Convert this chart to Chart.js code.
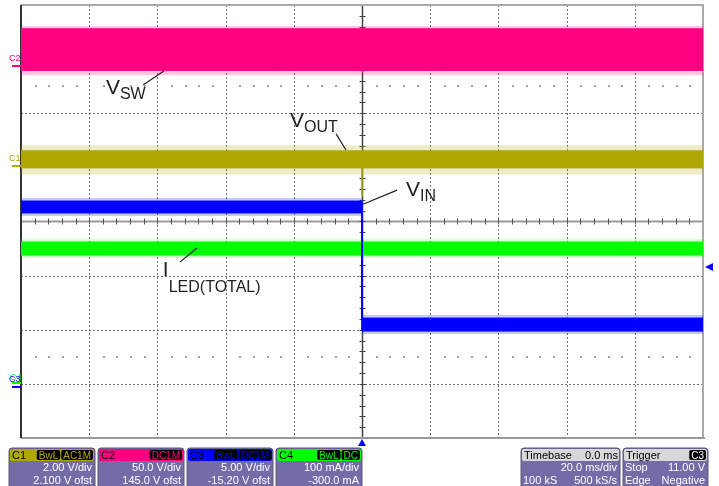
<!DOCTYPE html>
<html>
<head>
<meta charset="utf-8">
<script src="https://cdn.jsdelivr.net/npm/chart.js@4.4.0/dist/chart.umd.min.js"></script>
<style>
  html, body { margin: 0; padding: 0; background: #fff; overflow: hidden; }
  canvas { display: block; }
</style>
</head>
<body>
<canvas id="scope" width="719" height="486"></canvas>
<script>
// time axis in ms (20 ms/div, trigger at 0)
const timeFlat = [-100, 100];
const timeStep = [-100, 0, 0, 100];
const timeOut = [-100, 0, 0, 0, 100];

// channel setup
const chNames = ['C1', 'C2', 'C3', 'C4'];
const chScale = [2, 50, 5, 100];        // V/div, V/div, V/div, mA/div
const chOffset = [2.1, 145, -15.2, -300];
const chColors = ['rgb(176,168,0)', 'rgb(255,0,128)', 'rgb(0,0,255)', 'rgb(0,255,0)'];

// C2 - switch node (V): solid band and spike envelope
const vswHi = [33.0, 33.0];
const vswLo = [-5.5, -5.5];
const vswPeakHi = [35.7, 35.7];
const vswPeakLo = [-10.0, -10.0];

// C1 - output ripple (V, AC coupled)
const voutHi = [0.51, 0.51, 0.51, 0.51, 0.51];
const voutLo = [-0.12, -0.12, -1.19, -0.12, -0.12];
const voutPeakHi = [0.72, 0.72, 0.72, 0.72, 0.72];
const voutPeakLo = [-0.36, -0.36, -1.19, -0.36, -0.36];

// C3 - input (V), steps down at trigger
const vinHi = [17.09, 17.09, 6.28, 6.28];
const vinLo = [15.99, 15.99, 5.08, 5.08];
const vinPeakHi = [17.37, 17.37, 6.56, 6.56];
const vinPeakLo = [15.71, 15.71, 4.80, 4.80];

// C4 - LED current (mA)
const iledHi = [262, 262];
const iledLo = [238, 238];
const iledPeakHi = [267, 267];
const iledPeakLo = [233, 233];

const triggerLevel = 11.0; // V on C3

function toDiv(v, ch) {
  return (v + chOffset[ch]) / chScale[ch];
}

function alpha(rgb, a) {
  return rgb.replace('rgb(', 'rgba(').replace(')', ',' + a + ')');
}

function band(times, hi, lo, ch, soft) {
  const col = soft ? alpha(chColors[ch], 0.22) : chColors[ch];
  const mk = (arr) => times.map((t, i) => ({ x: t, y: toDiv(arr[i], ch) }));
  return [
    { data: mk(hi), borderColor: col, backgroundColor: col, borderWidth: soft ? 0 : 1,
      pointRadius: 0, fill: '+1', tension: 0, order: soft ? 2 : 1 },
    { data: mk(lo), borderColor: col, backgroundColor: col, borderWidth: soft ? 0 : 1,
      pointRadius: 0, fill: false, tension: 0, order: soft ? 2 : 1 }
  ];
}

const datasets = [].concat(
  band(timeFlat, vswPeakHi, vswPeakLo, 1, true),
  band(timeFlat, vswHi, vswLo, 1, false),
  band(timeOut, voutPeakHi, voutPeakLo, 0, true),
  band(timeOut, voutHi, voutLo, 0, false),
  band(timeStep, vinPeakHi, vinPeakLo, 2, true),
  band(timeStep, vinHi, vinLo, 2, false),
  band(timeFlat, iledPeakHi, iledPeakLo, 3, true),
  band(timeFlat, iledHi, iledLo, 3, false)
);

const FONT = '"Liberation Sans", Arial, sans-serif';

// graticule, drawn under the traces
const gridPlugin = {
  id: 'grid',
  beforeDatasetsDraw(chart) {
    const { ctx, chartArea: a, scales: { x, y } } = chart;
    ctx.save();
    ctx.strokeStyle = '#707070';
    ctx.lineWidth = 1;
    ctx.setLineDash([2, 2]);
    for (let t = -80; t <= 80; t += 20) {
      if (t === 0) continue;
      const px = Math.round(x.getPixelForValue(t)) + 0.5;
      ctx.beginPath(); ctx.moveTo(px, a.top); ctx.lineTo(px, a.bottom); ctx.stroke();
    }
    for (let d = -3; d <= 3; d++) {
      if (d === 0) continue;
      const py = Math.round(y.getPixelForValue(d)) + 0.5;
      ctx.beginPath(); ctx.moveTo(a.left, py); ctx.lineTo(a.right, py); ctx.stroke();
    }
    ctx.setLineDash([]);
    // sparse dot rows at +/-2.5 div
    ctx.fillStyle = '#a0a0a0';
    [2.5, -2.5].forEach(d => {
      const py = Math.round(y.getPixelForValue(d));
      for (let t = -96; t < 100; t += 4) {
        if (t % 20 === 0) continue;
        ctx.fillRect(Math.round(x.getPixelForValue(t)), py - 1, 2, 2);
      }
    });
    // centre horizontal axis with ticks
    const cy = y.getPixelForValue(0);
    ctx.strokeStyle = '#9a9a9a';
    ctx.lineWidth = 2;
    ctx.beginPath(); ctx.moveTo(a.left, cy); ctx.lineTo(a.right, cy); ctx.stroke();
    ctx.strokeStyle = '#555';
    ctx.lineWidth = 1;
    for (let t = -96; t < 100; t += 4) {
      const px = Math.round(x.getPixelForValue(t)) + 0.5;
      ctx.beginPath(); ctx.moveTo(px, cy - 3); ctx.lineTo(px, cy + 3); ctx.stroke();
    }
    // centre vertical axis with ticks
    const cx = Math.round(x.getPixelForValue(0)) + 0.5;
    ctx.strokeStyle = '#444';
    ctx.lineWidth = 1.5;
    ctx.beginPath(); ctx.moveTo(cx, a.top); ctx.lineTo(cx, a.bottom); ctx.stroke();
    ctx.lineWidth = 1;
    for (let d = -3.8; d < 4; d += 0.2) {
      const py = Math.round(y.getPixelForValue(d)) + 0.5;
      ctx.beginPath(); ctx.moveTo(cx - 3, py); ctx.lineTo(cx + 3, py); ctx.stroke();
    }
    // frame
    ctx.strokeStyle = '#aaa';
    ctx.lineWidth = 2;
    ctx.beginPath(); ctx.moveTo(a.left, a.top); ctx.lineTo(a.right, a.top); ctx.lineTo(a.right, a.bottom); ctx.stroke();
    ctx.strokeStyle = '#999';
    ctx.beginPath(); ctx.moveTo(a.left, a.bottom); ctx.lineTo(a.right + 2, a.bottom); ctx.stroke();
    ctx.strokeStyle = '#333';
    ctx.beginPath(); ctx.moveTo(a.left, a.top); ctx.lineTo(a.left, a.bottom); ctx.stroke();
    ctx.restore();
  }
};

function roundRect(ctx, x, y, w, h, r) {
  ctx.beginPath();
  ctx.moveTo(x + r, y);
  ctx.lineTo(x + w - r, y);
  ctx.quadraticCurveTo(x + w, y, x + w, y + r);
  ctx.lineTo(x + w, y + h - r);
  ctx.quadraticCurveTo(x + w, y + h, x + w - r, y + h);
  ctx.lineTo(x + r, y + h);
  ctx.quadraticCurveTo(x, y + h, x, y + h - r);
  ctx.lineTo(x, y + r);
  ctx.quadraticCurveTo(x, y, x + r, y);
  ctx.closePath();
}

function subLabel(ctx, x, y, main, sub, big, small, drop) {
  ctx.font = big + 'px ' + FONT;
  ctx.fillText(main, x, y);
  const w = ctx.measureText(main).width;
  ctx.font = small + 'px ' + FONT;
  ctx.fillText(sub, x + w, y + drop);
}

function infoBox(ctx, bx, by, w, head, headText, badges, rows) {
  ctx.save();
  roundRect(ctx, bx, by, w, 44, 3);
  ctx.fillStyle = 'rgb(116,108,166)';
  ctx.fill();
  ctx.strokeStyle = '#5a5670';
  ctx.lineWidth = 1;
  ctx.stroke();
  roundRect(ctx, bx + 1, by + 1, w - 2, 12, 2);
  ctx.fillStyle = head;
  ctx.fill();
  ctx.font = '11px ' + FONT;
  ctx.textBaseline = 'alphabetic';
  ctx.fillStyle = '#000';
  ctx.textAlign = 'left';
  ctx.fillText(headText[0], bx + 3, by + 11);
  if (headText[1]) {
    ctx.textAlign = 'right';
    ctx.fillText(headText[1], bx + w - 2, by + 11);
  }
  let rx = bx + w - 2;
  for (let i = badges.length - 1; i >= 0; i--) {
    const b = badges[i];
    ctx.font = '10px ' + FONT;
    const bw = ctx.measureText(b.text).width + 4;
    rx -= bw;
    roundRect(ctx, rx, by + 2, bw, 10, 2);
    ctx.fillStyle = '#000';
    ctx.fill();
    ctx.fillStyle = b.color;
    ctx.textAlign = 'left';
    ctx.fillText(b.text, rx + 2, by + 10.5);
    rx -= 1;
  }
  ctx.font = '11px ' + FONT;
  ctx.fillStyle = '#fff';
  rows.forEach((r, i) => {
    const yy = by + 23 + i * 13;
    if (r[0]) { ctx.textAlign = 'left'; ctx.fillText(r[0], bx + 2, yy); }
    ctx.textAlign = 'right';
    ctx.fillText(r[1], bx + w - 3, yy);
  });
  ctx.restore();
}

// markers, labels and status bar, drawn over the traces
const overlayPlugin = {
  id: 'overlay',
  afterDraw(chart) {
    const { ctx, chartArea: a, scales: { x, y } } = chart;
    const px = t => x.getPixelForValue(t);
    const py = d => y.getPixelForValue(d);
    ctx.save();

    // ground markers on the left edge
    [3, 2, 1, 0].forEach(ch => {
      const zy = Math.round(py(toDiv(0, ch)));
      ctx.fillStyle = chColors[ch];
      ctx.fillRect(a.left - 9, zy - (ch === 3 ? 2 : 0), 9, 2);
      ctx.font = '9px "Liberation Sans Narrow", ' + FONT;
      ctx.textAlign = 'left';
      ctx.fillText(chNames[ch], a.left - 12 + (ch === 3 ? 1 : 0), zy - 4);
    });

    // trigger level and trigger position
    const ty = py(toDiv(triggerLevel, 2));
    ctx.fillStyle = chColors[2];
    ctx.beginPath();
    ctx.moveTo(a.right + 2, ty); ctx.lineTo(a.right + 10, ty - 4); ctx.lineTo(a.right + 10, ty + 4);
    ctx.closePath(); ctx.fill();
    const tx = px(0);
    ctx.beginPath();
    ctx.moveTo(tx, a.bottom + 1); ctx.lineTo(tx - 4, a.bottom + 8); ctx.lineTo(tx + 4, a.bottom + 8);
    ctx.closePath(); ctx.fill();

    // trace annotations
    ctx.fillStyle = '#222';
    ctx.strokeStyle = '#222';
    ctx.lineWidth = 1.2;
    ctx.textAlign = 'left';
    const leaders = [
      [[-64.2, 2.52], [-58.1, 2.78]],
      [[-7.6, 1.62], [-4.7, 1.32]],
      [[10.3, 0.58], [0.3, 0.32]],
      [[-53.4, -0.75], [-48.4, -0.49]]
    ];
    leaders.forEach(l => {
      ctx.beginPath(); ctx.moveTo(px(l[0][0]), py(l[0][1])); ctx.lineTo(px(l[1][0]), py(l[1][1])); ctx.stroke();
    });
    subLabel(ctx, px(-75.1), py(2.356), 'V', 'SW', 21, 16, 5);
    subLabel(ctx, px(-21.1), py(1.746), 'V', 'OUT', 21, 16, 5);
    subLabel(ctx, px(12.9), py(0.471), 'V', 'IN', 21, 16, 5);
    subLabel(ctx, px(-58.4), py(-1.0), 'I', 'LED(TOTAL)', 21, 16, 16);

    // status bar
    infoBox(ctx, 9, 448, 86, chColors[0], ['C1'],
      [{ text: 'BwL', color: chColors[0] }, { text: 'AC1M', color: chColors[0] }],
      [['', '2.00 V/div'], ['', '2.100 V ofst']]);
    infoBox(ctx, 98, 448, 86, chColors[1], ['C2'],
      [{ text: 'DC1M', color: chColors[1] }],
      [['', '50.0 V/div'], ['', '145.0 V ofst']]);
    infoBox(ctx, 187, 448, 86, chColors[2], ['C3'],
      [{ text: 'BwL', color: chColors[2] }, { text: 'DC1M', color: chColors[2] }],
      [['', '5.00 V/div'], ['', '-15.20 V ofst']]);
    infoBox(ctx, 276, 448, 86, chColors[3], ['C4'],
      [{ text: 'BwL', color: chColors[3] }, { text: 'DC', color: chColors[3] }],
      [['', '100 mA/div'], ['', '-300.0 mA']]);
    infoBox(ctx, 521, 448, 99, '#d8d8d8', ['Timebase', '0.0 ms'], [],
      [['', '20.0 ms/div'], ['100 kS', '500 kS/s']]);
    infoBox(ctx, 623, 448, 85, '#d8d8d8', ['Trigger'],
      [{ text: 'C3', color: '#fff' }],
      [['Stop', '11.00 V'], ['Edge', 'Negative']]);
    ctx.restore();
  }
};

new Chart(document.getElementById('scope').getContext('2d'), {
  type: 'line',
  data: { datasets: datasets },
  options: {
    responsive: false,
    animation: false,
    events: [],
    layout: { padding: { left: 21, right: 16, top: 5, bottom: 48 } },
    plugins: { legend: { display: false }, tooltip: { enabled: false } },
    scales: {
      x: { type: 'linear', min: -100, max: 100, display: false },
      y: { type: 'linear', min: -4, max: 4, display: false }
    }
  },
  plugins: [gridPlugin, overlayPlugin]
});
</script>
</body>
</html>
